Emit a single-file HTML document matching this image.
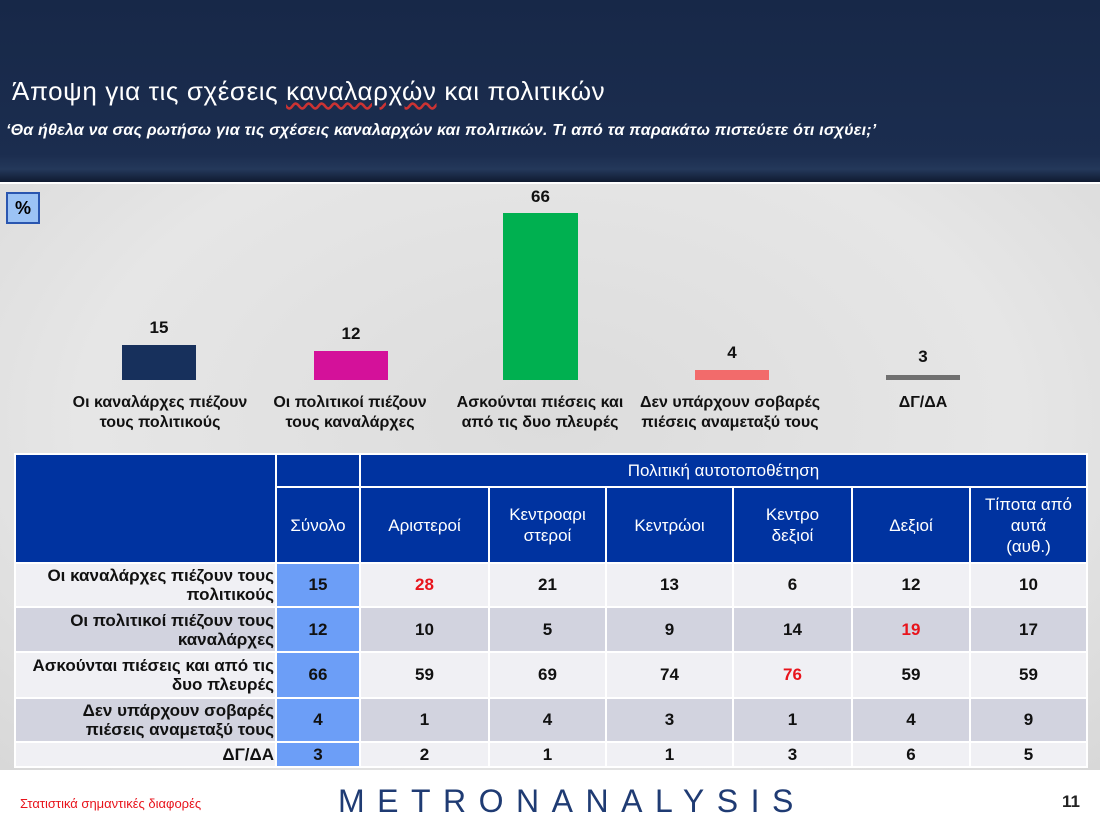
<!DOCTYPE html>
<html><head><meta charset="utf-8"><style>
body{margin:0;width:1100px;height:825px;position:relative;overflow:hidden;font-family:"Liberation Sans","DejaVu Sans",sans-serif;background:#fff}
.a{position:absolute}
.hdr{left:0;top:0;width:1100px;height:182px;background:linear-gradient(#172848,#1b2d4f 85%,#24385a 93%,#0f1a30)}
.map{left:0;top:184px;width:1100px;height:586px;background:radial-gradient(ellipse at 50% 40%,#dcdcdc,#e6e6e6 60%,#d8d8d8)}
.lbl{font-size:15px;font-weight:bold;color:#111;text-align:center;line-height:20px}
.val{font-size:17px;font-weight:bold;color:#111;text-align:center}
.bar{position:absolute}
table{position:absolute;left:14px;top:453px;border-collapse:collapse}
td{padding:0;text-align:center;font-size:17px;font-weight:bold;color:#111;border:2px solid #fff}
.h{background:#0033a0;color:#fff;font-weight:normal;font-size:17px;line-height:21px}
.r{text-align:right;font-size:17px;line-height:19px;padding-right:1px;white-space:nowrap}
.s{background:#6c9ef7}
.o td{background:#f0f0f4}.e td{background:#d2d3df}
.o td.s,.e td.s{background:#6c9ef7}
.red{color:#e8141c!important}
</style></head><body>
<div class="a hdr"></div>
<div class="a" style="left:12px;top:76px;color:#fff;font-size:26px;letter-spacing:0.6px">Άποψη για τις σχέσεις <span style="text-decoration:underline wavy #c33">καναλαρχών</span> και πολιτικών</div>
<div class="a" style="left:6px;top:122px;color:#fff;font-size:16px;font-style:italic;font-weight:bold;letter-spacing:0.2px">‘Θα ήθελα να σας ρωτήσω για τις σχέσεις καναλαρχών και πολιτικών. Τι από τα παρακάτω πιστεύετε ότι ισχύει;’</div>
<div class="a map"></div>
<div class="a" style="left:6px;top:192px;width:34px;height:32px;background:#9cc3f5;border:2px solid #2a56b0;box-sizing:border-box;font-weight:bold;font-size:18px;text-align:center;line-height:28px">%</div>
<div class="bar" style="left:122px;top:345px;width:74px;height:35px;background:#17305c"></div>
<div class="bar" style="left:314px;top:351px;width:74px;height:29px;background:#d4119a"></div>
<div class="bar" style="left:503px;top:213px;width:75px;height:167px;background:#00b050"></div>
<div class="bar" style="left:695px;top:370px;width:74px;height:10px;background:#f26b6b"></div>
<div class="bar" style="left:886px;top:375px;width:74px;height:5px;background:#707070"></div>
<div class="a val" style="left:122px;top:318px;width:74px">15</div>
<div class="a val" style="left:314px;top:324px;width:74px">12</div>
<div class="a val" style="left:503px;top:187px;width:75px">66</div>
<div class="a val" style="left:695px;top:343px;width:74px">4</div>
<div class="a val" style="left:886px;top:347px;width:74px">3</div>
<div class="a lbl" style="left:55px;top:393px;width:210px;font-size:16px">Οι καναλάρχες πιέζουν<br>τους πολιτικούς</div>
<div class="a lbl" style="left:245px;top:393px;width:210px;font-size:16px">Οι πολιτικοί πιέζουν<br>τους καναλάρχες</div>
<div class="a lbl" style="left:435px;top:393px;width:210px;font-size:16px">Ασκούνται πιέσεις και<br>από τις δυο πλευρές</div>
<div class="a lbl" style="left:625px;top:393px;width:210px;font-size:16px">Δεν υπάρχουν σοβαρές<br>πιέσεις αναμεταξύ τους</div>
<div class="a lbl" style="left:818px;top:393px;width:210px;font-size:16px">ΔΓ/ΔΑ</div>
<table>
<colgroup><col style="width:261px"><col style="width:84px"><col style="width:129px"><col style="width:117px"><col style="width:127px"><col style="width:119px"><col style="width:118px"><col style="width:117px"></colgroup>
<tr style="height:33px"><td class="h" rowspan="2"></td><td class="h"></td><td class="h" colspan="6">Πολιτική αυτοτοποθέτηση</td></tr>
<tr style="height:76px"><td class="h">Σύνολο</td><td class="h">Αριστεροί</td><td class="h">Κεντροαρι<br>στεροί</td><td class="h">Κεντρώοι</td><td class="h">Κεντρο<br>δεξιοί</td><td class="h">Δεξιοί</td><td class="h">Τίποτα από<br>αυτά<br>(αυθ.)</td></tr>
<tr class="o" style="height:44px"><td class="r">Οι καναλάρχες πιέζουν τους<br>πολιτικούς</td><td class="s">15</td><td class="red">28</td><td>21</td><td>13</td><td>6</td><td>12</td><td>10</td></tr>
<tr class="e" style="height:45px"><td class="r">Οι πολιτικοί πιέζουν τους<br>καναλάρχες</td><td class="s">12</td><td>10</td><td>5</td><td>9</td><td>14</td><td class="red">19</td><td>17</td></tr>
<tr class="o" style="height:46px"><td class="r">Ασκούνται πιέσεις και από τις<br>δυο πλευρές</td><td class="s">66</td><td>59</td><td>69</td><td>74</td><td class="red">76</td><td>59</td><td>59</td></tr>
<tr class="e" style="height:44px"><td class="r">Δεν υπάρχουν σοβαρές<br>πιέσεις αναμεταξύ τους</td><td class="s">4</td><td>1</td><td>4</td><td>3</td><td>1</td><td>4</td><td>9</td></tr>
<tr class="o" style="height:25px"><td class="r">ΔΓ/ΔΑ</td><td class="s">3</td><td>2</td><td>1</td><td>1</td><td>3</td><td>6</td><td>5</td></tr>
</table>
<div class="a" style="left:20px;top:796px;color:#e8141c;font-size:13px">Στατιστικά σημαντικές διαφορές</div>
<div class="a" style="left:338px;top:783px;color:#1f3b73;font-size:32px;letter-spacing:12.5px">METRONANALYSIS</div>
<div class="a" style="left:1062px;top:792px;font-size:17px;color:#222;font-weight:bold">11</div>
</body></html>
